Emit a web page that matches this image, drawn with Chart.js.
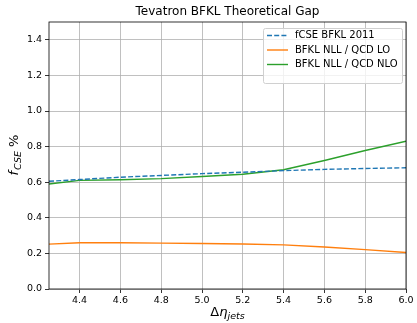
<!DOCTYPE html>
<html>
<head>
<meta charset="utf-8">
<script src="https://cdn.jsdelivr.net/npm/chart.js@4"></script>
<style>
  html, body { margin: 0; padding: 0; background: #fff; }
  #wrap { width: 417px; height: 323px; }
</style>
</head>
<body>
<div id="wrap"><canvas id="chart" width="417" height="323"></canvas></div>
<script>
// values
const eta = [4.25, 4.4, 4.6, 4.8, 5.0, 5.2, 5.4, 5.6, 5.8, 6.0];
const fcseBfkl2011 = [0.605, 0.615, 0.628, 0.638, 0.648, 0.656, 0.665, 0.672, 0.677, 0.681];
const nllQcdLo = [0.252, 0.260, 0.260, 0.258, 0.256, 0.253, 0.248, 0.236, 0.221, 0.205];
const nllQcdNlo = [0.590, 0.610, 0.614, 0.620, 0.632, 0.645, 0.670, 0.722, 0.778, 0.830];
const xTicks = [4.4, 4.6, 4.8, 5.0, 5.2, 5.4, 5.6, 5.8, 6.0];
const yTicks = [0.0, 0.2, 0.4, 0.6, 0.8, 1.0, 1.2, 1.4];

const FONT = 'DejaVu Sans';

const pts = vals => eta.map((x, i) => ({ x: x, y: vals[i] }));

// title, axis labels with subscripts, frame and in-plot legend
const decor = {
  id: 'decor',
  afterDraw(chart) {
    const ctx = chart.ctx;
    const a = chart.chartArea;
    ctx.save();

    // frame
    ctx.strokeStyle = '#000';
    ctx.lineWidth = 0.8;
    ctx.strokeRect(a.left, a.top, a.right - a.left, a.bottom - a.top);

    // title
    ctx.fillStyle = '#000';
    ctx.font = `12px ${FONT}`;
    ctx.textAlign = 'center';
    ctx.textBaseline = 'middle';
    ctx.fillText('Tevatron BFKL Theoretical Gap', (a.left + a.right) / 2, 12);

    // x label: Δη_jets
    ctx.textBaseline = 'alphabetic';
    ctx.textAlign = 'left';
    ctx.font = `italic 13px ${FONT}`;
    const wEta = ctx.measureText('η').width;
    ctx.font = `13px ${FONT}`;
    const wD = ctx.measureText('Δ').width;
    ctx.font = `italic 9.5px ${FONT}`;
    const wSub = ctx.measureText('jets').width;
    let x0 = (a.left + a.right) / 2 - (wD + wEta + wSub) / 2;
    const yb = 316;
    ctx.font = `13px ${FONT}`;
    ctx.fillText('Δ', x0, yb);
    ctx.font = `italic 13px ${FONT}`;
    ctx.fillText('η', x0 + wD, yb);
    ctx.font = `italic 9.5px ${FONT}`;
    ctx.fillText('jets', x0 + wD + wEta, yb + 3);

    // y label: f_CSE %
    ctx.translate(18, (a.top + a.bottom) / 2);
    ctx.rotate(-Math.PI / 2);
    ctx.font = `italic 13px ${FONT}`;
    const wf = ctx.measureText('f').width;
    ctx.font = `italic 9.5px ${FONT}`;
    const wc = ctx.measureText('CSE').width;
    ctx.font = `13px ${FONT}`;
    const wp = ctx.measureText(' %').width;
    x0 = -(wf + wc + wp) / 2;
    ctx.font = `italic 13px ${FONT}`;
    ctx.fillText('f', x0, 0);
    ctx.font = `italic 9.5px ${FONT}`;
    ctx.fillText('CSE', x0 + wf + 1, 3);
    ctx.font = `13px ${FONT}`;
    ctx.fillText(' %', x0 + wf + 1 + wc, 0);
    ctx.setTransform(1, 0, 0, 1, 0, 0);

    // legend
    const bx = 263, by = 28, bw = 139, bh = 55;
    ctx.fillStyle = 'rgba(255,255,255,0.8)';
    ctx.strokeStyle = '#d0d0d0';
    ctx.lineWidth = 1;
    ctx.beginPath();
    ctx.roundRect(bx + 0.5, by + 0.5, bw, bh, 2);
    ctx.fill();
    ctx.stroke();
    ctx.font = `10px ${FONT}`;
    ctx.textBaseline = 'middle';
    chart.data.datasets.forEach((ds, i) => {
      const ly = 35.5 + i * 14.5;
      ctx.strokeStyle = ds.borderColor;
      ctx.lineWidth = ds.borderWidth;
      ctx.setLineDash(ds.borderDash || []);
      ctx.beginPath();
      ctx.moveTo(267, ly);
      ctx.lineTo(288, ly);
      ctx.stroke();
      ctx.setLineDash([]);
      ctx.fillStyle = '#000';
      ctx.fillText(ds.label, 295, ly);
    });
    ctx.restore();
  }
};

new Chart(document.getElementById('chart'), {
  type: 'line',
  data: {
    datasets: [
      { label: 'fCSE BFKL 2011', data: pts(fcseBfkl2011), borderColor: '#1f77b4', borderWidth: 1.4, borderDash: [5, 2.2] },
      { label: 'BFKL NLL / QCD LO', data: pts(nllQcdLo), borderColor: '#ff7f0e', borderWidth: 1.4 },
      { label: 'BFKL NLL / QCD NLO', data: pts(nllQcdNlo), borderColor: '#2ca02c', borderWidth: 1.4 }
    ]
  },
  options: {
    responsive: false,
    animation: false,
    elements: { point: { radius: 0 }, line: { tension: 0 } },
    layout: { padding: { left: 0, right: 11, top: 22, bottom: 0 } },
    plugins: { legend: { display: false }, title: { display: false }, tooltip: { enabled: false } },
    scales: {
      x: {
        type: 'linear',
        min: 4.25,
        max: 6.0,
        afterBuildTicks: s => { s.ticks = xTicks.map(v => ({ value: v })); },
        afterFit: s => { s.height = 34; },
        grid: { color: '#b0b0b0', lineWidth: 0.8, tickColor: '#000', tickLength: 4 },
        border: { display: false },
        ticks: { color: '#000', font: { family: FONT, size: 9.5 }, padding: 2, maxRotation: 0, callback: v => v.toFixed(1) }
      },
      y: {
        min: 0,
        max: 1.5,
        afterBuildTicks: s => { s.ticks = yTicks.map(v => ({ value: v })); },
        afterFit: s => { s.width = 49; },
        grid: { color: '#b0b0b0', lineWidth: 0.8, tickColor: '#000', tickLength: 4 },
        border: { display: false },
        ticks: { color: '#000', font: { family: FONT, size: 9.5 }, padding: 3, callback: v => v.toFixed(1) }
      }
    }
  },
  plugins: [decor]
});
</script>
</body>
</html>
